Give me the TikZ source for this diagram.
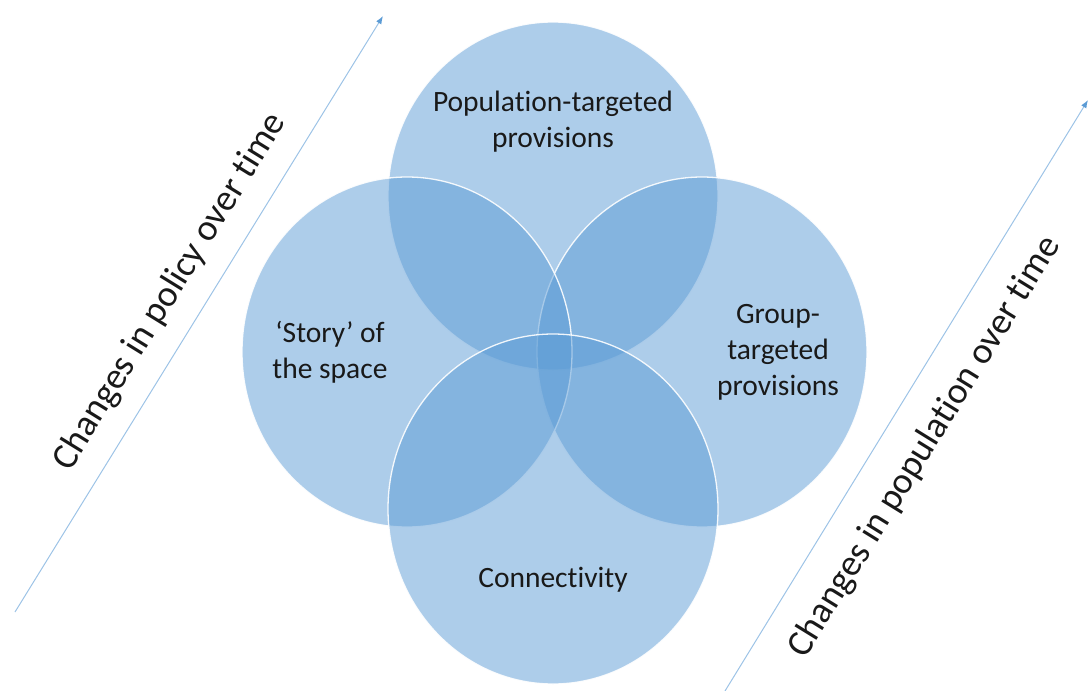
\documentclass[tikz,border=0pt]{standalone}
\usepackage{fontspec}
\setmainfont{Carlito}[Ligatures={NoCommon}]
\usetikzlibrary{arrows.meta}
\definecolor{vblue}{HTML}{5B9BD5}
\definecolor{lineblue}{HTML}{9DC3E6}
\begin{document}
\begin{tikzpicture}[x=1pt,y=-1pt,
  venn/.style={fill=vblue, fill opacity=0.5, draw=white, draw opacity=0.9, line width=1.3pt},
  lbl/.style={align=center, font=\fontsize{29.5}{36}\selectfont, text=black!90, inner sep=0pt},
  rlbl/.style={font=\fontsize{37}{44}\selectfont, text=black!90, inner sep=0pt, rotate=58.3},
  trend/.style={draw=lineblue, line width=1pt, -{Latex[length=8pt,width=6pt,color=vblue]}}]
\useasboundingbox (0,0) rectangle (1088,691);
% circles
\path[venn] (553,196) ellipse [x radius=165, y radius=174];
\path[venn] (702,352) ellipse [x radius=165, y radius=175];
\path[venn] (407,352) ellipse [x radius=165, y radius=175];
\path[venn] (553,509) ellipse [x radius=165, y radius=175];
% labels
\node[lbl] (pop) at (553,122) {Population-targeted\\provisions};
\node[lbl] (story) at (330,352) {‘Story’ of\\the space};
\node[lbl] (group) at (778,352) {Group-\\targeted\\provisions};
\node[lbl] (conn) at (553,580) {Connectivity};
% trend arrows
\coordinate (l0) at (15,612);
\coordinate (l1) at (383,16);
\coordinate (r0) at (725,691);
\coordinate (r1) at (1088,100);
\draw[trend] (l0) -- (l1);
\draw[trend] (r0) -- (r1);
\node[rlbl] (policy) at (170,292) {Changes in policy over time};
\node[rlbl] (popt) at (925,447) {Changes in population over time};
\end{tikzpicture}
\end{document}
